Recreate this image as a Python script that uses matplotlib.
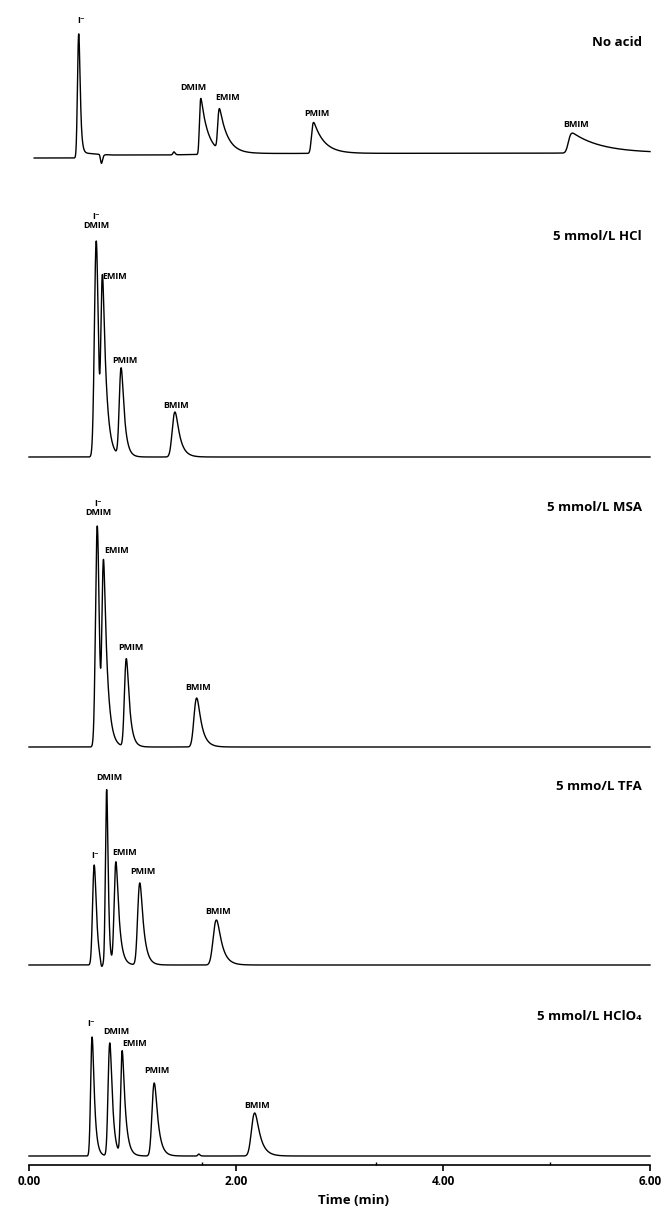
import numpy as np
import matplotlib
matplotlib.use("Agg")
import matplotlib.pyplot as plt

plt.rcParams['font.family'] = ['Open Sans', 'DejaVu Sans']

# peak tables: retention time (min), apex height, gaussian width, exponential tail
noacid_names = ["I\u207b", "DMIM", "EMIM", "PMIM", "BMIM"]
noacid_rt = [0.48, 1.66, 1.84, 2.75, 5.25]
noacid_h = [122, 56, 41, 31, 20]
noacid_sigma = [0.010, 0.008, 0.010, 0.012, 0.020]
noacid_tau = [0.012, 0.070, 0.080, 0.100, 0.280]
noacid_extra_rt = [0.70, 1.40]
noacid_extra_h = [-9, 3]
noacid_drift_t = [0.0, 0.45, 0.52, 0.65, 0.80, 1.30, 2.20, 6.0]
noacid_drift_y = [-3, -3, 2, 1, 0, 0, 1.5, 2]

hcl_names = ["I\u207b\nDMIM", "EMIM", "PMIM", "BMIM"]
hcl_rt = [0.65, 0.71, 0.89, 1.41]
hcl_h = [216, 176, 88, 45]
hcl_sigma = [0.016, 0.011, 0.014, 0.020]
hcl_tau = [0.012, 0.035, 0.030, 0.045]

msa_names = ["I\u207b\nDMIM", "EMIM", "PMIM", "BMIM"]
msa_rt = [0.66, 0.72, 0.94, 1.62]
msa_h = [221, 182, 88, 49]
msa_sigma = [0.015, 0.011, 0.014, 0.020]
msa_tau = [0.012, 0.035, 0.030, 0.045]

tfa_names = ["I\u207b", "DMIM", "EMIM", "PMIM", "BMIM"]
tfa_rt = [0.63, 0.75, 0.84, 1.07, 1.81]
tfa_h = [100, 175, 103, 82, 45]
tfa_sigma = [0.013, 0.010, 0.013, 0.016, 0.024]
tfa_tau = [0.020, 0.012, 0.030, 0.035, 0.050]
tfa_extra_rt = [0.70]
tfa_extra_h = [-6]

hclo4_names = ["I\u207b", "DMIM", "EMIM", "PMIM", "BMIM"]
hclo4_rt = [0.61, 0.78, 0.90, 1.21, 2.18]
hclo4_h = [119, 113, 104, 73, 43]
hclo4_sigma = [0.011, 0.013, 0.011, 0.017, 0.024]
hclo4_tau = [0.022, 0.025, 0.030, 0.035, 0.050]
hclo4_extra_rt = [1.64]
hclo4_extra_h = [2]

panel_titles = ["No acid", "5 mmol/L HCl", "5 mmol/L MSA", "5 mmo/L TFA",
                "5 mmol/L HClO\u2084"]

# layout in pixels
W, H = 664, 1209
X0, X1 = 29, 650
bases = [155, 457, 747, 965, 1156]
title_y = [42, 237, 507, 786, 1016]
t_start = [0.05, 0.0, 0.0, 0.0, 0.0]

# label offsets from the apex, in pixels
noacid_off = [(2, 13), (-7, 11), (8, 11), (3, 9), (4, 9)]
hcl_off = [(0, 20), (12, -2), (4, 7), (1, 7)]
msa_off = [(1, 18), (13, 9), (5, 11), (1, 10)]
tfa_off = [(1, 10), (3, 12), (9, 9), (3, 11), (2, 9)]
hclo4_off = [(-1, 13), (7, 11), (12, 7), (3, 12), (2, 8)]

t = np.linspace(0, 6, 6001)


def emg_peak(t, rt, height, sigma, tau):
    dt = t[1] - t[0]
    u = np.arange(-8 * sigma, 8 * sigma + 12 * tau, dt)
    g = np.exp(-0.5 * (u / sigma) ** 2)
    if tau > 0:
        e = np.exp(-np.arange(len(u)) * dt / tau)
        shape = np.convolve(g, e)[:len(u)]
    else:
        shape = g
    shape = shape / shape.max()
    apex = u[np.argmax(shape)]
    return height * np.interp(t - rt + apex, u, shape, left=0, right=0)


def trace(rts, hs, sigmas, taus, extra_rt=(), extra_h=(), drift=None):
    y = np.zeros_like(t)
    for rt, h, s, tau in zip(rts, hs, sigmas, taus):
        y += emg_peak(t, rt, h, s, tau)
    for rt, h in zip(extra_rt, extra_h):
        y += emg_peak(t, rt, h, 0.008, 0.008)
    if drift is not None:
        y += np.interp(t, drift[0], drift[1])
    return y


panels = [
    (noacid_names, noacid_rt, noacid_off,
     trace(noacid_rt, noacid_h, noacid_sigma, noacid_tau, noacid_extra_rt,
           noacid_extra_h, (noacid_drift_t, noacid_drift_y))),
    (hcl_names, hcl_rt, hcl_off, trace(hcl_rt, hcl_h, hcl_sigma, hcl_tau)),
    (msa_names, msa_rt, msa_off, trace(msa_rt, msa_h, msa_sigma, msa_tau)),
    (tfa_names, tfa_rt, tfa_off,
     trace(tfa_rt, tfa_h, tfa_sigma, tfa_tau, tfa_extra_rt, tfa_extra_h)),
    (hclo4_names, hclo4_rt, hclo4_off,
     trace(hclo4_rt, hclo4_h, hclo4_sigma, hclo4_tau, hclo4_extra_rt,
           hclo4_extra_h)),
]

fig = plt.figure(figsize=(W / 100, H / 100), dpi=100)

for i, (names, rts, offs, y) in enumerate(panels):
    base = bases[i]
    top = 0 if i == 0 else bases[i - 1] + 12
    bottom = base + (9 if i == len(panels) - 1 else 12)
    ax = fig.add_axes([X0 / W, 1 - bottom / H, (X1 - X0) / W, (bottom - top) / H])
    ax.set_xlim(0, 6)
    ax.set_ylim(-(bottom - base), base - top)

    mask = t >= t_start[i]
    ax.plot(t[mask], y[mask], color='black', lw=1.0, clip_on=False)

    for name, rt, (dx, dy) in zip(names, rts, offs):
        k = np.argmin(np.abs(t - rt))
        ax.annotate(name, (rt, y[k]), xytext=(dx, dy), textcoords='offset pixels',
                    ha='center', va='center', fontsize=6.5, fontweight='bold',
                    linespacing=1.0)

    fig.text(642 / W, 1 - title_y[i] / H, panel_titles[i], ha='right',
             va='center', fontsize=9.5, fontweight='bold')

    for side in ['top', 'left', 'right']:
        ax.spines[side].set_visible(False)
    ax.set_yticks([])
    if i < len(panels) - 1:
        ax.spines['bottom'].set_visible(False)
        ax.set_xticks([])
    else:
        ax.spines['bottom'].set_linewidth(1.2)
        ax.set_xticks([0, 2, 4, 6])
        ax.set_xticklabels(['0.00', '2.00', '4.00', '6.00'], fontsize=8.5,
                           fontweight='bold')
        ax.set_xticks([1.67, 3.35, 5.03], minor=True)
        ax.tick_params(which='major', direction='out', length=4, width=1.2, pad=3)
        ax.tick_params(which='minor', direction='in', length=2.5, width=1)

fig.text(354 / W, 1 - 1201 / H, 'Time (min)', ha='center', va='center',
         fontsize=9.5, fontweight='bold')

fig.savefig('out.png', dpi=100)
